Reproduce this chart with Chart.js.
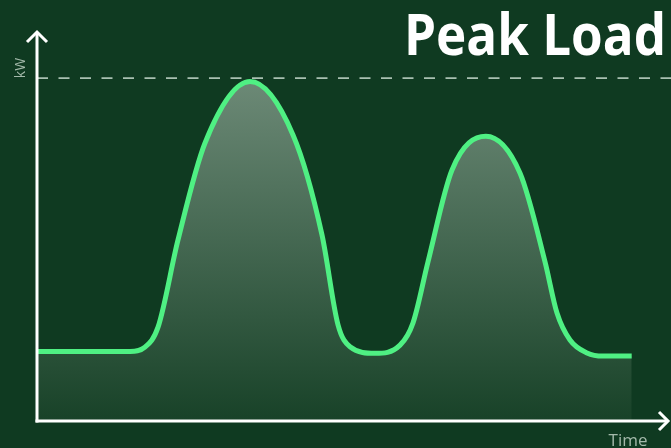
<!DOCTYPE html>
<html>
<head>
<meta charset="utf-8">
<script src="https://cdn.jsdelivr.net/npm/chart.js@4"></script>
<style>
html,body{margin:0;padding:0;background:#0f3a21;}
#c{display:block;}
</style>
</head>
<body>
<canvas id="c" width="671" height="448"></canvas>
<script>
// Data (time in arbitrary units 0-100, load in kW units 0-100)
const timePoints = [0, 14.67, 17.03, 19.09, 22.24, 26.5, 33.6, 40.4, 44.95, 47.48, 49.37, 53.31, 57.26, 59.31, 61.67, 65.46, 70.8, 76.18, 80.13, 82.02, 84.07, 86.75, 89.27, 93.8];
const loadValues = [17.8, 17.8, 18.9, 24.0, 46.3, 71.1, 86.8, 73.1, 47.6, 24.6, 19.0, 17.3, 19.4, 25.1, 40.7, 64.2, 72.8, 63.4, 40.7, 27.6, 20.7, 17.4, 16.6, 16.6];
const peakLevel = 87.7;
const peakLineTimes = [0, 100];
const titleText = "Peak Load";
const yAxisLabel = "kW";
const xAxisLabel = "Time";

const curve = timePoints.map((t, i) => ({x: t, y: loadValues[i]}));
const peakLine = peakLineTimes.map(t => ({x: t, y: peakLevel}));

const BG = '#0f3a21';

const decor = {
  id: 'decor',
  beforeDraw(chart) {
    const ctx = chart.ctx;
    ctx.save();
    ctx.fillStyle = BG;
    ctx.fillRect(0, 0, chart.width, chart.height);
    ctx.restore();
  },
  afterDraw(chart) {
    const ctx = chart.ctx;
    const xs = chart.scales.x, ys = chart.scales.y;
    const x0 = xs.getPixelForValue(0);
    const y0 = ys.getPixelForValue(0);
    const yTop = ys.getPixelForValue(100) + 2;
    const xEnd = xs.getPixelForValue(100) - 3;
    ctx.save();
    ctx.strokeStyle = '#ffffff';
    ctx.lineWidth = 3;
    ctx.lineCap = 'butt';
    ctx.lineJoin = 'miter';
    // y axis
    ctx.beginPath();
    ctx.moveTo(x0, y0 + 1.5);
    ctx.lineTo(x0, yTop);
    ctx.stroke();
    ctx.beginPath();
    ctx.moveTo(x0 - 10, yTop + 10);
    ctx.lineTo(x0, yTop);
    ctx.lineTo(x0 + 10, yTop + 10);
    ctx.stroke();
    // x axis
    ctx.beginPath();
    ctx.moveTo(x0 - 1.5, y0);
    ctx.lineTo(xEnd, y0);
    ctx.stroke();
    ctx.beginPath();
    ctx.moveTo(xEnd - 9, y0 - 9);
    ctx.lineTo(xEnd, y0);
    ctx.lineTo(xEnd - 9, y0 + 9);
    ctx.stroke();
    // title
    ctx.fillStyle = '#ffffff';
    ctx.font = 'bold 57px "Open Sans"';
    ctx.textAlign = 'right';
    ctx.textBaseline = 'alphabetic';
    const w = ctx.measureText(titleText).width;
    const targetW = 262;
    ctx.save();
    ctx.translate(666, 55);
    if (w > targetW) ctx.scale(targetW / w, 1);
    ctx.fillText(titleText, 0, 0);
    ctx.restore();
    // axis labels
    ctx.fillStyle = '#a3b9aa';
    ctx.font = '17px "Open Sans"';
    ctx.textAlign = 'center';
    ctx.fillText(xAxisLabel, 628, 446);
    ctx.save();
    ctx.translate(25, 68);
    ctx.rotate(-Math.PI / 2);
    ctx.font = '14px "Open Sans"';
    ctx.textAlign = 'center';
    ctx.fillText(yAxisLabel, 0, 0);
    ctx.restore();
    ctx.restore();
  }
};

function fillGradient(context) {
  const chart = context.chart;
  const area = chart.chartArea;
  if (!area) return 'rgba(100,130,110,0.5)';
  const ys = chart.scales.y;
  const top = ys.getPixelForValue(Math.max(...loadValues));
  const bottom = ys.getPixelForValue(0);
  const g = chart.ctx.createLinearGradient(0, top, 0, bottom);
  g.addColorStop(0, 'rgb(108,137,118)');
  g.addColorStop(1, 'rgb(24,66,40)');
  return g;
}

new Chart(document.getElementById('c'), {
  type: 'line',
  data: {
    datasets: [
      {
        data: peakLine,
        borderColor: '#a9c0b1',
        borderWidth: 1.6,
        borderDash: [11, 10.5],
        pointRadius: 0,
        fill: false,
        order: 2
      },
      {
        data: curve,
        borderColor: '#4ff083',
        borderWidth: 5,
        backgroundColor: fillGradient,
        fill: 'origin',
        cubicInterpolationMode: 'monotone',
        pointRadius: 0,
        order: 1
      }
    ]
  },
  options: {
    responsive: false,
    animation: false,
    events: [],
    layout: { padding: { left: 37, right: 0, top: 30, bottom: 27 } },
    plugins: { legend: { display: false }, tooltip: { enabled: false }, title: { display: false } },
    scales: {
      x: { type: 'linear', min: 0, max: 100, display: false },
      y: { type: 'linear', min: 0, max: 100, display: false }
    }
  },
  plugins: [decor]
});
</script>
</body>
</html>
